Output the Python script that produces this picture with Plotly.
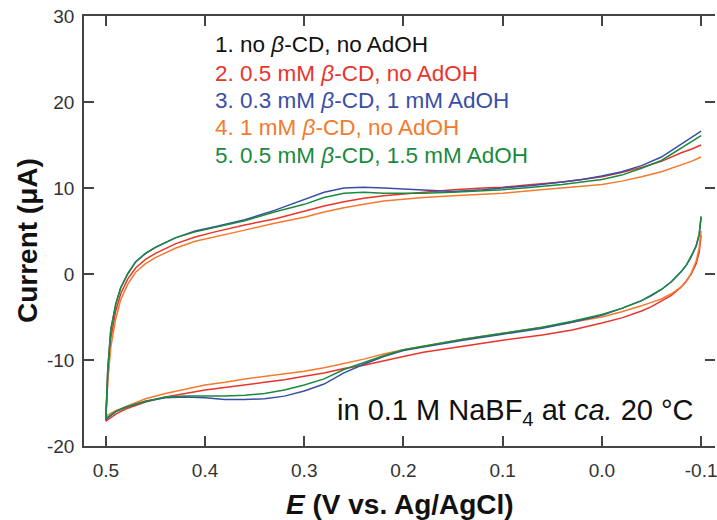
import plotly.graph_objects as go

# ---------------- data ----------------
# forward (upper) branch: potential scanned 0.5 -> -0.1 V
E_up = [0.5, 0.498, 0.495, 0.49, 0.485, 0.478, 0.47, 0.46, 0.45, 0.43, 0.41, 0.39, 0.36, 0.33,
        0.3, 0.28, 0.26, 0.24, 0.22, 0.2, 0.18, 0.15, 0.12, 0.1, 0.07, 0.04, 0.02, 0.0,
        -0.02, -0.04, -0.06, -0.08, -0.09, -0.1]
# return (lower) branch: -0.1 -> 0.5 V
E_dn = [-0.1, -0.098, -0.095, -0.09, -0.085, -0.08, -0.07, -0.06, -0.05, -0.04, -0.02, 0.0,
        0.03, 0.06, 0.1, 0.14, 0.18, 0.2, 0.22, 0.24, 0.26, 0.28, 0.3, 0.32, 0.34, 0.36,
        0.38, 0.4, 0.42, 0.44, 0.46, 0.48, 0.49, 0.5]

red_dn = [4.5, 2.5, 1.2, 0.0, -0.8, -1.5, -2.5, -3.2, -3.8, -4.3, -5.1, -5.7, -6.5, -7.1, -7.7,
          -8.4, -9.1, -9.6, -10.1, -10.6, -11.0, -11.5, -11.9, -12.3, -12.6, -12.9, -13.2,
          -13.5, -13.9, -14.3, -14.9, -15.7, -16.3, -17.1]
red_up = [-17.1, -12.0, -7.5, -4.3, -2.3, -0.6, 0.7, 1.7, 2.4, 3.5, 4.3, 4.9, 5.7, 6.4, 7.3,
          7.9, 8.4, 8.8, 9.1, 9.3, 9.5, 9.8, 10.0, 10.1, 10.4, 10.7, 11.0, 11.3, 11.8, 12.4,
          13.1, 14.1, 14.5, 15.0]

orange_dn = [5.0, 3.0, 1.5, 0.1, -0.9, -1.5, -2.3, -2.9, -3.3, -3.7, -4.4, -5.0, -5.6, -6.2,
             -6.9, -7.6, -8.4, -8.8, -9.3, -9.9, -10.4, -10.9, -11.3, -11.6, -11.9, -12.2,
             -12.6, -12.9, -13.4, -13.9, -14.5, -15.4, -15.9, -16.5]
orange_up = [-16.5, -12.5, -8.5, -5.2, -3.0, -1.2, 0.2, 1.2, 1.9, 3.0, 3.8, 4.3, 5.1, 5.9,
             6.6, 7.2, 7.7, 8.1, 8.5, 8.7, 8.9, 9.1, 9.3, 9.4, 9.7, 10.0, 10.2, 10.4, 10.8,
             11.3, 11.9, 12.7, 13.1, 13.6]

blue_dn = [6.7, 4.6, 3.3, 2.0, 1.0, 0.3, -0.9, -1.8, -2.5, -3.1, -4.0, -4.8, -5.6, -6.3, -7.0,
           -7.7, -8.5, -8.9, -9.6, -10.5, -11.5, -12.8, -13.6, -14.2, -14.5, -14.6, -14.6,
           -14.4, -14.3, -14.4, -14.8, -15.5, -16.0, -16.9]
blue_up = [-16.9, -11.0, -6.5, -3.5, -1.6, 0.0, 1.4, 2.4, 3.1, 4.2, 5.0, 5.5, 6.3, 7.4, 8.7,
           9.5, 10.0, 10.1, 10.0, 9.9, 9.8, 9.6, 9.8, 10.0, 10.3, 10.7, 11.0, 11.4, 11.9,
           12.6, 13.6, 15.1, 15.8, 16.6]

green_dn = [6.6, 4.5, 3.2, 2.0, 1.0, 0.3, -0.9, -1.8, -2.5, -3.1, -4.0, -4.7, -5.5, -6.2,
            -6.9, -7.6, -8.4, -8.8, -9.5, -10.3, -11.1, -12.2, -12.9, -13.5, -13.9, -14.1,
            -14.2, -14.2, -14.2, -14.3, -14.8, -15.5, -16.0, -16.8]
green_up = [-16.8, -11.0, -6.5, -3.5, -1.6, 0.0, 1.4, 2.4, 3.1, 4.2, 4.9, 5.4, 6.2, 7.2, 8.1,
            8.9, 9.4, 9.5, 9.4, 9.4, 9.4, 9.5, 9.7, 9.8, 10.1, 10.4, 10.7, 11.0, 11.5, 12.3,
            13.2, 14.6, 15.3, 16.1]

legend_labels = [
    "1. no <i>β</i>-CD, no AdOH",
    "2. 0.5 mM <i>β</i>-CD, no AdOH",
    "3. 0.3 mM <i>β</i>-CD, 1 mM AdOH",
    "4. 1 mM <i>β</i>-CD, no AdOH",
    "5. 0.5 mM <i>β</i>-CD, 1.5 mM AdOH",
]
legend_colors = ["#111111", "#e8352c", "#3a4ea6", "#f47a2e", "#1a8a3e"]

x_tickvals = [0.5, 0.4, 0.3, 0.2, 0.1, 0.0, -0.1]
x_ticktext = ["0.5", "0.4", "0.3", "0.2", "0.1", "0.0", "-0.1"]
y_tickvals = [30, 20, 10, 0, -10, -20]
y_ticktext = ["30", "20", "10", "0", "-10", "-20"]

FONT = "Arial, 'Liberation Sans', Helvetica, sans-serif"

fig = go.Figure()

series = [
    (red_dn, red_up, legend_colors[1]),
    (orange_dn, orange_up, legend_colors[3]),
    (blue_dn, blue_up, legend_colors[2]),
    (green_dn, green_up, legend_colors[4]),
]
for dn, up, col in series:
    fig.add_trace(go.Scatter(
        x=E_dn + E_up[1:], y=dn + up[1:], mode="lines",
        line=dict(color=col, width=1.5), showlegend=False, hoverinfo="skip"))

# invisible trace to carry the right-side mirror ticks
fig.add_trace(go.Scatter(x=[None], y=[None], yaxis="y2", showlegend=False))

axis_col = "#444444"
tick_font = dict(size=19, color="#333333", family=FONT)
fig.update_layout(
    width=717, height=520,
    margin=dict(l=84, r=0, t=16, b=74),
    plot_bgcolor="white", paper_bgcolor="white",
    font=dict(family=FONT, color="#333333"),
    xaxis=dict(range=[0.522, -0.114], tickvals=x_tickvals, ticktext=x_ticktext,
               ticks="inside", ticklen=10, tickwidth=1.5, tickcolor=axis_col,
               showline=True, linecolor=axis_col, linewidth=1.5, mirror="ticks",
               showgrid=False, zeroline=False, ticklabeloverflow="allow",
               tickfont=tick_font, ticklabelstandoff=6),
    yaxis=dict(range=[-20, 30], tickvals=y_tickvals, ticktext=y_ticktext,
               ticks="inside", ticklen=10, tickwidth=1.5, tickcolor=axis_col,
               showline=True, linecolor=axis_col, linewidth=1.5,
               showgrid=False, zeroline=False,
               tickfont=tick_font, ticklabelstandoff=4),
    yaxis2=dict(range=[-20, 30], overlaying="y", side="right", tickvals=y_tickvals,
                ticks="inside", ticklen=10, tickwidth=1.5, tickcolor=axis_col,
                showline=False, showticklabels=False, showgrid=False, zeroline=False),
)

# legend text
ys = [0.933, 0.867, 0.804, 0.740, 0.676]
for lab, col, yy in zip(legend_labels, legend_colors, ys):
    fig.add_annotation(text=lab, x=0.204, y=yy, xref="paper", yref="paper",
                       xanchor="left", yanchor="middle", showarrow=False,
                       font=dict(size=22.5, color=col, family=FONT))

fig.add_annotation(text="in 0.1 M NaBF<sub>4</sub> at <i>ca.</i> 20 °C",
                   x=0.9695, y=0.078, xref="paper", yref="paper",
                   xanchor="right", yanchor="middle", showarrow=False,
                   font=dict(size=29, color="#111111", family=FONT))

fig.add_annotation(text="<b><i>E</i> (V vs. Ag/AgCl)</b>", x=0.5, y=-0.137,
                   xref="paper", yref="paper", xanchor="center", yanchor="middle",
                   showarrow=False, font=dict(size=28, color="#111111", family=FONT))
fig.add_annotation(text="<b>Current (μA)</b>", x=-0.0885, y=0.477, textangle=-90,
                   xref="paper", yref="paper", xanchor="center", yanchor="middle",
                   showarrow=False, font=dict(size=28, color="#111111", family=FONT))

fig.write_html("out.html")
